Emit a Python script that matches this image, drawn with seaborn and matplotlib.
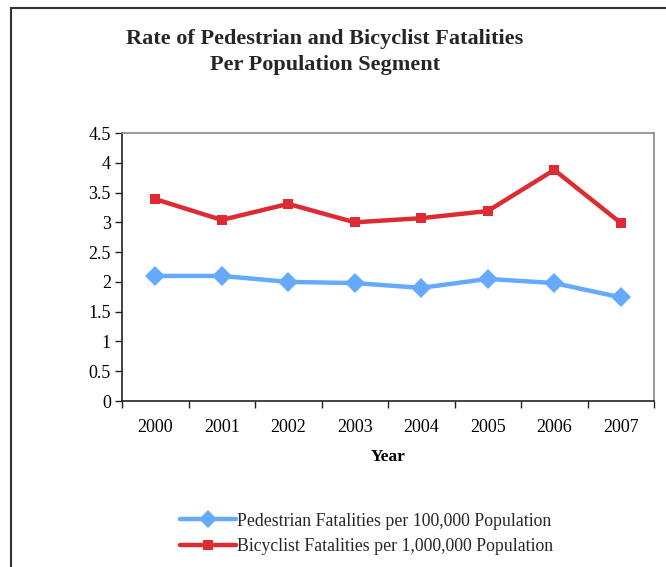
import matplotlib
matplotlib.use("Agg")
import matplotlib.pyplot as plt
import matplotlib.patches as mpatches
import seaborn as sns
import pandas as pd

years = [2000, 2001, 2002, 2003, 2004, 2005, 2006, 2007]
pedestrian = [2.10, 2.10, 2.00, 1.98, 1.90, 2.05, 1.98, 1.74]
bicyclist = [3.39, 3.04, 3.31, 3.00, 3.07, 3.19, 3.88, 2.99]
ped_label = "Pedestrian Fatalities per 100,000 Population"
bike_label = "Bicyclist Fatalities per 1,000,000 Population"
yticks = [0, 0.5, 1, 1.5, 2, 2.5, 3, 3.5, 4, 4.5]
ytick_labels = ["0", "0.5", "1", "1.5", "2", "2.5", "3", "3.5", "4", "4.5"]

df = pd.DataFrame({
    "Year": years * 2,
    "Rate": pedestrian + bicyclist,
    "Series": [ped_label] * len(years) + [bike_label] * len(years),
})

sns.set_theme(style="white")
plt.rcParams["font.family"] = ["Liberation Serif", "DejaVu Serif"]

fig = plt.figure(figsize=(6.66, 5.67), dpi=100)
ax = fig.add_axes([122/666, 1 - 401/567, (654-122)/666, (401-133)/567])

palette = {ped_label: "#66AAFF", bike_label: "#DD2A33"}
sns.lineplot(data=df, x="Year", y="Rate", hue="Series", style="Series",
             markers={ped_label: "D", bike_label: "s"}, dashes=False,
             palette=palette, linewidth=3.2, ax=ax, legend=False,
             markeredgewidth=0)
for line in ax.lines:
    if line.get_marker() == "D":
        line.set_markersize(10)
    else:
        line.set_markersize(6.5)

ax.set_xlim(1999.5, 2007.5)
ax.set_ylim(0, 4.5)
ax.set_yticks(yticks)
ax.set_yticklabels(ytick_labels, fontsize=13)
bounds = [y - 0.5 for y in years] + [years[-1] + 0.5]
ax.set_xticks(bounds)
ax.set_xticklabels([""] * len(bounds))
ax.set_xticks(years, minor=True)
ax.set_xticklabels([str(y) for y in years], minor=True, fontsize=13)
ax.tick_params(axis="x", which="major", direction="out", length=5, width=1, color="#222222", bottom=True)
ax.tick_params(axis="x", which="minor", length=0, pad=13, colors="black", bottom=True)
ax.tick_params(axis="y", direction="out", length=5, width=1, color="#222222", pad=3, left=True, labelcolor="black")
ax.set_xlabel("Year", fontsize=12.5, fontweight="bold", labelpad=9, color="black")
ax.set_ylabel("")

for s in ["left", "bottom"]:
    ax.spines[s].set_color("#222222")
    ax.spines[s].set_linewidth(1.2)
for s in ["top", "right"]:
    ax.spines[s].set_color("#888888")
    ax.spines[s].set_linewidth(1.2)

fig.text(325/666, 1 - 39/567, "Rate of Pedestrian and Bicyclist Fatalities",
         ha="center", va="center", fontsize=16, fontweight="bold")
fig.text(325/666, 1 - 65/567, "Per Population Segment",
         ha="center", va="center", fontsize=16, fontweight="bold")

handles = [
    plt.Line2D([], [], color="#66AAFF", lw=3.2, marker="D", markersize=9, markeredgewidth=0),
    plt.Line2D([], [], color="#DD2A33", lw=3.2, marker="s", markersize=6.5, markeredgewidth=0),
]
fig.legend(handles, [ped_label, bike_label], loc="center",
           bbox_to_anchor=(367/666, 1 - 534/567), frameon=False, fontsize=12.8,
           handlelength=3.1, handletextpad=0.1, labelspacing=0.5)

frame = mpatches.Rectangle((11/666, -0.1), 1.2, 1.1 - 8/567, transform=fig.transFigure,
                           fill=False, edgecolor="#333333", linewidth=1.5, clip_on=False)
fig.patches.append(frame)

fig.savefig("out.png", dpi=100, facecolor="white")
